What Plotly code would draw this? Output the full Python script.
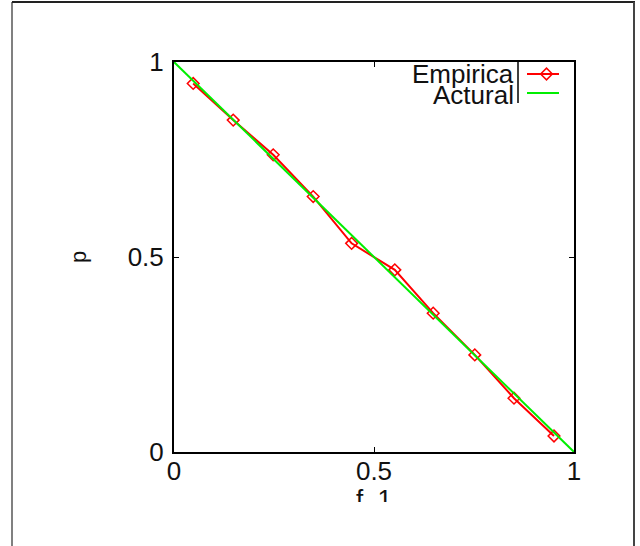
import plotly.graph_objects as go

# ---- data ----
emp_f1 = [0.048, 0.148, 0.248, 0.348, 0.444, 0.552, 0.648, 0.752, 0.85, 0.95]
emp_p = [0.945, 0.851, 0.762, 0.655, 0.535, 0.467, 0.356, 0.249, 0.138, 0.041]
act_f1 = [0.0, 1.0]
act_p = [1.0, 0.0]
tick_vals = [0, 0.5, 1]
tick_text = ["0", "0.5", "1"]
legend_names = ["Empirica", "Actural"]

W, H = 640, 546
FONT = "Liberation Sans"
RED = "#ff0000"
GREEN = "#00ee00"

# plot box in pixels
L, R, T, B = 174, 574, 62, 452

fig = go.Figure()

fig.add_trace(go.Scatter(
    x=emp_f1, y=emp_p, mode="lines+markers", name=legend_names[0],
    line=dict(color=RED, width=2),
    marker=dict(symbol="diamond-open", size=9, color=RED, line=dict(width=1.5, color=RED)),
    xaxis="x", yaxis="y", showlegend=False, cliponaxis=False,
))
fig.add_trace(go.Scatter(
    x=act_f1, y=act_p, mode="lines", name=legend_names[1],
    line=dict(color=GREEN, width=2),
    xaxis="x", yaxis="y", showlegend=False, cliponaxis=False,
))

# x-axis title, cut off at the bottom by its own small clipping subplot
fig.add_trace(go.Scatter(
    x=[374], y=[501], mode="text", text=["f_1"],
    textfont=dict(family=FONT, size=26, color="#111"),
    textposition="middle center", cliponaxis=True,
    xaxis="x2", yaxis="y2", showlegend=False, hoverinfo="skip",
))

# key samples drawn on a full-page pixel layer
fig.add_trace(go.Scatter(
    x=[527, 559], y=[74, 74], mode="lines", line=dict(color=RED, width=2),
    xaxis="x3", yaxis="y3", showlegend=False, hoverinfo="skip",
))
fig.add_trace(go.Scatter(
    x=[546.5], y=[74], mode="markers",
    marker=dict(symbol="diamond-open", size=9, color=RED, line=dict(width=1.5, color=RED)),
    xaxis="x3", yaxis="y3", showlegend=False, hoverinfo="skip",
))
fig.add_trace(go.Scatter(
    x=[527, 559], y=[93, 93], mode="lines", line=dict(color=GREEN, width=2),
    xaxis="x3", yaxis="y3", showlegend=False, hoverinfo="skip",
))

axis_common = dict(
    range=[0, 1], tickvals=tick_vals, ticktext=tick_text,
    ticks="inside", ticklen=5, tickwidth=1, tickcolor="#000",
    showline=True, linecolor="#000", linewidth=2, mirror="allticks",
    showgrid=False, zeroline=False,
    tickfont=dict(family=FONT, size=26, color="#111"),
)

fig.update_layout(
    width=W, height=H,
    margin=dict(l=0, r=0, t=0, b=0, pad=0, autoexpand=False),
    paper_bgcolor="white", plot_bgcolor="rgba(0,0,0,0)",
    xaxis=dict(domain=[L / W, R / W], anchor="y", ticklabelstandoff=-5, **axis_common),
    yaxis=dict(domain=[1 - B / H, 1 - T / H], anchor="x", ticklabelstandoff=3, **axis_common),
    xaxis2=dict(domain=[L / W, R / W], range=[L, R], visible=False, anchor="y2"),
    yaxis2=dict(domain=[1 - 502 / H, 1 - 478 / H], range=[502, 478], visible=False, anchor="x2"),
    xaxis3=dict(domain=[0, 1], range=[0, W], visible=False, anchor="y3"),
    yaxis3=dict(domain=[0, 1], range=[H, 0], visible=False, anchor="x3"),
    annotations=[
        dict(x=78, y=257, xref="x3", yref="y3", text="p", showarrow=False,
             textangle=-90, font=dict(family=FONT, size=22, color="#111"),
             xanchor="center", yanchor="middle"),
        dict(x=516, y=74, xref="x3", yref="y3", text=legend_names[0], showarrow=False,
             font=dict(family=FONT, size=26, color="#111"),
             xanchor="right", yanchor="middle"),
        dict(x=516, y=95, xref="x3", yref="y3", text=legend_names[1], showarrow=False,
             font=dict(family=FONT, size=26, color="#111"),
             xanchor="right", yanchor="middle"),
    ],
    shapes=[
        # key box edge
        dict(type="line", xref="x3", yref="y3", x0=518, x1=518, y0=62, y1=103,
             line=dict(color="#000", width=1.5)),
        # outer page frame
        dict(type="line", xref="x3", yref="y3", x0=12, x1=12, y0=2, y1=H,
             line=dict(color="#808080", width=2)),
        dict(type="line", xref="x3", yref="y3", x0=12, x1=635, y0=2, y1=2,
             line=dict(color="#222", width=2)),
        dict(type="line", xref="x3", yref="y3", x0=634, x1=634, y0=2, y1=H,
             line=dict(color="#444", width=2)),
    ],
)

fig.write_html("out.html")
